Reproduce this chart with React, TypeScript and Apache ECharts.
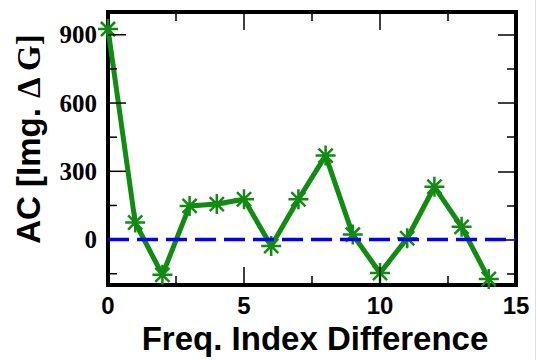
import React, { useEffect, useRef } from "react";
import * as echarts from "echarts";

const freqIndex = [0, 1, 2, 3, 4, 5, 6, 7, 8, 9, 10, 11, 12, 13, 14];
const acValues = [925, 75, -155, 148, 156, 177, -28, 177, 369, 22, -147, 6, 232, 56, -173];
const zeroLine = [[0, 0], [15, 0]];
const xMajorTicks = [0, 5, 10, 15];
const xMinorTicks = [2.5, 7.5, 12.5];
const yMajorTicks = [0, 300, 600, 900];
const yMinorTicks = [-150, 150, 450, 750];
const X_MIN = 0;
const X_MAX = 15;
const Y_MIN = -200;
const Y_MAX = 1000;

const GREEN = "#118b11";
const BLUE = "#0000ff";
const STAR = "path://M0,-10L0,10M-10,0L10,0M-7.07,-7.07L7.07,7.07M-7.07,7.07L7.07,-7.07";
const SERIF = "'Liberation Serif', 'Times New Roman', serif";
const SANS = "'Liberation Sans', Arial, sans-serif";

// inward ticks along the bottom (dir "x") or left (dir "y") edge of the plot
function tickSeries(values: number[], dir: "x" | "y", len: number) {
  return {
    type: "custom",
    silent: true,
    clip: false,
    z: 4,
    encode: { x: 0, y: 1 },
    data: values.map((v) => (dir === "x" ? [v, Y_MIN] : [X_MIN, v])),
    renderItem: (params: any, api: any) => {
      const p = api.coord([api.value(0), api.value(1)]);
      const shape =
        dir === "x"
          ? { x1: p[0], y1: p[1], x2: p[0], y2: p[1] - len }
          : { x1: p[0], y1: p[1], x2: p[0] + len, y2: p[1] };
      return { type: "line", shape, style: { stroke: "#000", lineWidth: 1.5 } };
    },
  };
}

export default function App() {
  const ref = useRef<HTMLDivElement>(null);
  useEffect(() => {
    if (!ref.current) return;
    const chart = echarts.init(ref.current, null, { renderer: "svg" });
    const tickStyle = { color: "#000", width: 1.5 };
    chart.setOption({
      animation: false,
      grid: {
        left: 108,
        right: 21,
        top: 12,
        bottom: 72,
        show: true,
        borderColor: "#000",
        borderWidth: 4,
        backgroundColor: "transparent",
      },
      graphic: [
        {
          type: "line",
          shape: { x1: 535.5, y1: 0, x2: 535.5, y2: 360 },
          style: { stroke: "#dddddd", lineWidth: 1 },
          silent: true,
        },
      ],
      xAxis: [
        {
          type: "value",
          min: X_MIN,
          max: X_MAX,
          interval: 5,
          position: "bottom",
          splitLine: { show: false },
          axisLine: { show: false, onZero: false },
          axisTick: { show: false },
          name: "Freq. Index Difference",
          nameLocation: "middle",
          nameGap: 36,
          nameTextStyle: {
            fontFamily: SANS,
            fontWeight: "bold",
            fontSize: 33,
            color: "#000",
            padding: [0, 0, 0, 6],
          },
          axisLabel: {
            margin: 8,
            fontFamily: SANS,
            fontWeight: "bold",
            fontSize: 24,
            color: "#000",
          },
        },
        {
          type: "value",
          min: X_MIN,
          max: X_MAX,
          interval: 5,
          position: "top",
          splitLine: { show: false },
          axisLine: { show: false, onZero: false },
          axisTick: { show: true, inside: true, length: 18, lineStyle: tickStyle },
          minorTick: { show: true, splitNumber: 2, length: 9, lineStyle: tickStyle },
          minorSplitLine: { show: false },
          axisLabel: { show: false },
        },
      ],
      yAxis: [
        {
          type: "value",
          min: Y_MIN,
          max: Y_MAX,
          position: "left",
          splitLine: { show: false },
          axisLine: { show: false, onZero: false },
          axisTick: { show: false },
          name: "{a|AC [Img. }{b|Δ G]}",
          nameLocation: "middle",
          nameGap: 63,
          nameTextStyle: {
            padding: [0, 0, 0, 20],
            rich: {
              a: { fontFamily: SANS, fontWeight: "bold", fontSize: 33, color: "#000" },
              b: { fontFamily: SERIF, fontWeight: "bold", fontSize: 33, color: "#000" },
            },
          },
          axisLabel: {
            customValues: yMajorTicks,
            margin: 11,
            fontFamily: SERIF,
            fontWeight: "bold",
            fontSize: 25,
            color: "#000",
          },
        },
        {
          type: "value",
          min: Y_MIN,
          max: Y_MAX,
          position: "right",
          splitLine: { show: false },
          axisLine: { show: false, onZero: false },
          axisTick: { show: true, inside: true, length: 18, lineStyle: tickStyle, customValues: yMajorTicks },
          axisLabel: { show: false },
        },
        {
          type: "value",
          min: Y_MIN,
          max: Y_MAX,
          position: "right",
          splitLine: { show: false },
          axisLine: { show: false, onZero: false },
          axisTick: { show: true, inside: true, length: 9, lineStyle: tickStyle, customValues: yMinorTicks },
          axisLabel: { show: false },
        },
      ],
      series: [
        tickSeries(xMajorTicks, "x", 18),
        tickSeries(xMinorTicks, "x", 9),
        tickSeries(yMajorTicks, "y", 18),
        tickSeries(yMinorTicks, "y", 9),
        {
          type: "line",
          data: freqIndex.map((x, i) => [x, acValues[i]]),
          symbol: STAR,
          symbolSize: 20,
          lineStyle: { color: GREEN, width: 5 },
          itemStyle: { color: GREEN, borderColor: GREEN, borderWidth: 2.5 },
          z: 2,
        },
        {
          type: "line",
          data: zeroLine,
          symbol: "none",
          lineStyle: { color: BLUE, width: 3.5, type: [21, 8] },
          z: 5,
        },
      ],
    });
    return () => chart.dispose();
  }, []);
  return (
    <div
      ref={ref}
      style={{ position: "fixed", left: 0, top: 0, width: 537, height: 360, background: "#fff" }}
    />
  );
}
